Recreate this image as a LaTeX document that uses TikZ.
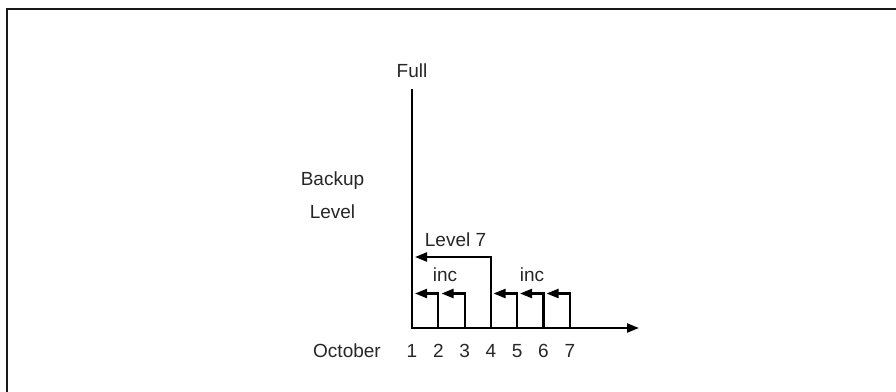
\documentclass[tikz,border=0pt]{standalone}
\usepackage{fontspec}
\setmainfont{Liberation Sans}
\usetikzlibrary{arrows.meta}
\begin{document}
\begin{tikzpicture}[x=1pt,y=-1pt,
  lbl/.style={font=\fontsize{19}{22}\selectfont, text=black!85, inner sep=0pt, anchor=center},
  conn/.style={line width=2.2pt, -{Triangle[length=12pt,width=9pt]}, line join=miter},
  frame/.style={line width=2.2pt, draw=black!90}]
\useasboundingbox (0,0) rectangle (896,391);
% frame
\coordinate (fbl) at (7,392);
\coordinate (ftl) at (7,9);
\coordinate (ftr) at (897,9);
\draw[frame] (fbl) -- (ftl) -- (ftr);
% axes
\coordinate (top) at (412,89);
\coordinate (o) at (412,328);
\coordinate (xend) at (639,328);
\draw[conn] (top) -- (o) -- (xend);
% day points
\foreach \i/\x in {1/412,2/438.3,3/464.6,4/491,5/517.2,6/543.5,7/570}{
  \coordinate (d\i) at (\x,328);
  \node[lbl] (n\i) at (\x,351) {\i};
}
\node[lbl] (oct) at (347,351) {October};
% level 7
\coordinate (l7) at (415,257);
\draw[conn] (d4) |- (l7);
% incrementals
\coordinate (t2) at (415,293.5);
\coordinate (t3) at (441.5,293.5);
\coordinate (t5) at (493.5,293.5);
\coordinate (t6) at (520,293.5);
\coordinate (t7) at (546.5,293.5);
\draw[conn] (d2) |- (t2);
\draw[conn] (d3) |- (t3);
\draw[conn] (d5) |- (t5);
\draw[conn] (d6) |- (t6);
\draw[conn] (d7) |- (t7);
% labels
\node[lbl] (full) at (412,71) {Full};
\node[lbl] (backup) at (332.5,181) {Backup};
\node[lbl] (level) at (332.5,212) {Level};
\node[lbl] (lvl7) at (455.5,240) {Level 7};
\node[lbl] (inc1) at (445,275) {inc};
\node[lbl] (inc2) at (532,275) {inc};
\end{tikzpicture}
\end{document}
